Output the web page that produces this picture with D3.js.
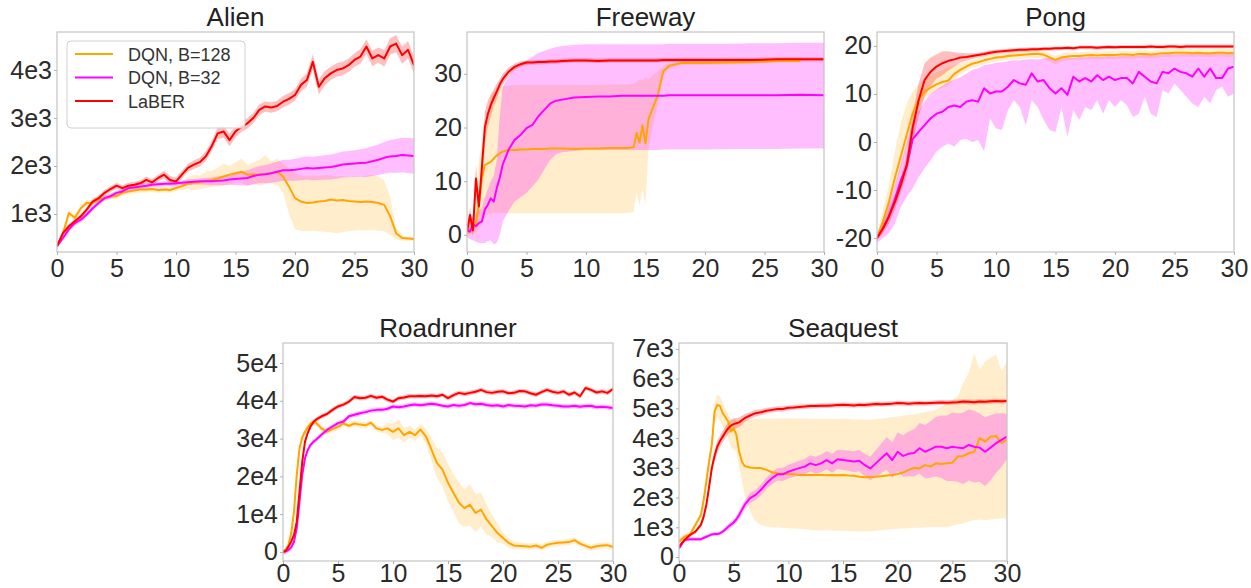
<!DOCTYPE html>
<html>
<head>
<meta charset="utf-8">
<script src="https://cdn.jsdelivr.net/npm/d3@7"></script>
<style>
  body { margin: 0; background: #fff; }
  text { font-family: "Liberation Sans", Arial, sans-serif; }
</style>
</head>
<body>
<div id="fig"></div>
<script>
// ---- shared ----
var seriesNames = ["DQN, B=128", "DQN, B=32", "LaBER"];
var xTicks = [0, 5, 10, 15, 20, 25, 30];

// ---- Alien (x every 0.5) ----
var alienSteps = d3.range(0, 30.01, 0.5);
var alienOrange = [330,600,1020,920,1120,1230,1230,1300,1330,1370,
  1370,1440,1470,1490,1510,1510,1520,1500,1510,1500,
  1540,1580,1630,1650,1660,1690,1710,1740,1780,1820,
  1850,1880,1820,1830,1820,1830,1850,1880,1780,1570,
  1330,1260,1230,1240,1260,1270,1300,1280,1290,1270,
  1260,1250,1260,1250,1230,1190,950,600,500,490,
  480];
var alienOrangeLo = [300,540,950,860,1050,1170,1170,1240,1270,1310,
  1310,1380,1410,1430,1450,1450,1460,1440,1450,1440,
  1480,1500,1520,1500,1520,1540,1560,1580,1600,1620,
  1650,1650,1600,1620,1600,1620,1640,1600,1450,1000,
  680,650,640,650,640,630,620,600,620,640,
  650,660,660,660,650,640,560,480,450,440,
  440];
var alienOrangeHi = [360,660,1090,980,1190,1290,1290,1360,1390,1430,
  1430,1500,1530,1550,1570,1570,1580,1560,1570,1560,
  1600,1680,1760,1820,1800,1880,1900,1960,2050,2000,
  2080,2150,2020,2080,2120,2230,2100,2150,2050,1950,
  1850,1800,1780,1800,1790,1810,1800,1780,1790,1770,
  1780,1760,1800,1820,1780,1700,1350,720,560,530,
  520];
var alienMagenta = [330,500,680,810,880,990,1120,1230,1330,1370,
  1440,1470,1540,1550,1570,1590,1610,1620,1630,1630,
  1640,1650,1660,1670,1680,1680,1680,1690,1700,1720,
  1730,1740,1750,1790,1820,1830,1850,1880,1910,1910,
  1920,1940,1960,1950,1960,1970,1980,2000,2030,2040,
  2050,2060,2070,2100,2130,2170,2200,2210,2230,2220,
  2210];
var alienMagentaSpread = [40,50,50,50,50,50,50,50,50,50,
  50,50,50,50,50,50,50,50,50,50,
  50,50,60,60,60,70,80,90,100,110,
  130,140,160,170,180,190,200,210,220,220,
  230,235,240,245,250,255,260,265,270,275,
  280,290,300,310,320,330,340,350,360,365,
  370];
var alienRed = [330,600,745,850,950,1090,1260,1330,1440,1520,
  1590,1540,1590,1610,1640,1710,1660,1750,1820,1710,
  1680,1820,1960,2030,2080,2200,2410,2680,2720,2540,
  2720,2820,2890,3000,3170,3240,3220,3250,3340,3400,
  3480,3690,3790,4170,3650,3830,3930,4000,4030,4100,
  4210,4280,4490,4240,4310,4240,4490,4550,4310,4420,
  4100];
var alienRedSpread = [40,50,50,50,50,50,60,60,60,60,
  60,60,60,60,60,70,70,70,80,80,
  80,80,80,90,90,100,110,120,130,130,
  120,110,110,110,110,110,110,110,120,120,
  120,130,140,160,160,150,140,140,140,140,
  140,150,150,160,160,170,170,180,180,180,
  180];
var alienTicks = [1000, 2000, 3000, 4000];
var alienTickLabels = ["1e3", "2e3", "3e3", "4e3"];

// ---- Freeway ----
var fwSteps = [0,0.25,0.5,0.75,1,1.25,1.5,1.75,2,2.25,
  2.5,2.75,3,3.5,4,4.5,5,5.5,6,6.5,
  7,7.5,8,9,10,11,12,13,13.5,14,
  14.25,14.5,14.75,15,15.25,15.5,16,16.5,17,18,
  20,22,24,26,28,30];
var fwOrange = [0.3,0.8,1,2,6,10.5,13,13.3,13.6,14.2,
  14.8,15.2,15.5,15.8,15.8,15.9,15.9,16,16,16,
  16.1,16.1,16.1,16,16.1,16.1,16.2,16.2,16.2,16.3,
  19,17.2,20.4,17,21.5,23,25.8,30.5,31.5,32,
  32,32.1,32.2,32.4,32.4,null];
var fwOrangeLo = [0,0,0,0.5,1,2,3,3.8,4,4,
  4,4,4,4,4,4,4,4,4,4,
  4,4,4,4,4,4,4,4,4.1,4.2,
  8,5.5,8.5,5.5,16,19,24,29.8,31,31.7,
  31.7,31.8,31.9,32.1,32.1,null];
var fwOrangeHi = [1,2,4,8,14,17,19.6,23,25.8,26.8,
  27.4,27.6,27.7,27.8,27.9,27.9,27.9,27.9,27.9,27.9,
  27.9,27.9,27.9,27.9,27.9,27.9,28,28,28,28.2,
  28.5,29,28.8,29.3,29,29.6,30.5,31.4,32,32.3,
  32.3,32.4,32.5,32.7,32.7,null];
var fwMagenta = [0.9,0.6,1.9,1.6,2.2,2.5,4.7,5.6,6.8,6.2,
  8.7,10.6,13.1,15.9,17.7,18.6,19.9,20.5,22.1,23.3,
  24.5,25,25.2,25.6,25.7,25.8,25.8,25.9,25.9,25.9,
  25.9,25.9,25.9,25.9,25.9,25.9,25.9,25.9,26,26,
  26,26,26,26,26.1,26];
var fwMagentaLo = [-0.5,-0.8,-1,-1.3,-1.5,-1.5,-1.5,-1.2,-1,-1.8,
  -1.5,0,2.5,4.5,6.2,7,7.8,9,10.3,12.2,
  14,15,15.4,15.6,15.8,15.8,15.8,15.8,15.8,15.8,
  15.8,15.8,15.8,15.8,15.8,15.8,15.8,15.9,15.9,15.9,
  15.9,16,16,16,16.1,16.1];
var fwMagentaHi = [2.5,2.5,3.5,4,4.5,5,7,8.5,10,11,
  14,22,27.5,29.5,31,32,32.5,33.2,33.9,34.3,
  34.7,35,35.2,35.4,35.5,35.5,35.5,35.5,35.5,35.5,
  35.5,35.5,35.5,35.5,35.5,35.5,35.5,35.5,35.6,35.6,
  35.6,35.6,35.7,35.7,35.8,35.8];
var fwRed = [0.6,3.7,0.8,10.5,5.3,12.5,20,22.5,24.2,25.5,
  26.7,28,29,30.4,31.3,31.8,32.1,32.1,32.2,32.2,
  32.3,32.3,32.4,32.5,32.5,32.4,32.5,32.5,32.5,32.5,
  32.5,32.5,32.5,32.5,32.5,32.5,32.5,32.6,32.6,32.6,
  32.6,32.6,32.6,32.7,32.7,32.7];
var fwRedSpread = [0.5,1.5,1,2.5,2,3,3,2.5,2,1.5,
  1.5,1,1,0.8,0.6,0.5,0.4,0.4,0.4,0.4,
  0.4,0.4,0.4,0.4,0.4,0.4,0.4,0.4,0.4,0.4,
  0.4,0.4,0.4,0.4,0.4,0.4,0.4,0.4,0.4,0.4,
  0.4,0.4,0.4,0.4,0.4,0.4];
var fwTicks = [0, 10, 20, 30];
var fwTickLabels = ["0", "10", "20", "30"];

// ---- Pong (x every 0.5) ----
var pongSteps = d3.range(0, 30.01, 0.5);
var pongOrange = [-20,-16.5,-12.5,-7.5,-3,1.5,6,8.8,10.5,11.3,
  12,12.5,12.8,14.2,15,15.7,16.3,16.6,17,17.3,
  17.6,17.7,17.9,18,18.1,18.2,18.3,18.3,18.2,17.6,
  17.1,17.6,17.8,17.9,17.9,18,18.1,18,18.1,18.1,
  18.1,18.2,18.2,18.1,18.3,18.3,18.2,18.3,18.5,18.5,
  18.6,18.6,18.6,18.5,18.6,18.5,18.5,18.6,18.6,18.5,
  18.6];
var pongOrangeLo = [-20.5,-17.5,-14,-9.5,-5.5,-1,3.5,7,9,10,
  10.8,11.3,11.7,13,14,14.8,15.5,15.8,16.2,16.5,
  16.8,16.9,17.1,17.2,17.3,17.4,17.5,17.5,17.3,16.8,
  16.2,16.8,17,17.1,17.1,17.2,17.3,17.2,17.3,17.3,
  17.3,17.4,17.4,17.3,17.5,17.5,17.4,17.5,17.7,17.7,
  17.8,17.8,17.8,17.7,17.8,17.7,17.7,17.8,17.8,17.7,
  17.8];
var pongOrangeHi = [-19.5,-14,-9,-2,4,8,10.5,12,13,13.8,
  14.5,15,15.5,16,16.5,16.8,17.2,17.4,17.8,18.1,
  18.4,18.5,18.7,18.8,18.9,19,19.1,19.1,19,18.5,
  18,18.4,18.6,18.7,18.7,18.8,18.9,18.8,18.9,18.9,
  18.9,19,19,18.9,19.1,19.1,19,19.1,19.3,19.3,
  19.4,19.4,19.4,19.3,19.4,19.3,19.3,19.4,19.4,19.3,
  19.4];
var pongMagenta = [-20,-18,-15.5,-12,-8,-5,0.6,2.1,3.5,4.9,
  5.9,6.3,7.3,7.6,7.3,8.4,8.7,8.4,11.2,10.1,
  10.5,10.5,11.5,12.9,12.2,11.9,14.3,12.6,12.9,11.2,
  10.1,11.2,9.8,13.6,12.6,13.3,12.6,13.9,12.9,13.6,
  12.9,13.3,13.3,12.2,14.6,13.6,12.6,12.2,14.6,14.3,
  15.3,14.6,14.3,13.6,15.3,13.6,15.3,13.3,13.3,15.3,
  15.7];
var pongMagentaLo = [-21,-20,-19,-17,-13.5,-11.4,-9.7,-7.3,-5.5,-3.8,
  -2,-1,-0.3,-1,0.4,0.7,0,0.4,-2,4.9,
  2.8,2.5,6.6,8.7,7.3,3.5,8.7,7.3,4.6,2.5,
  2.1,7.3,1.1,6.6,4.6,7.3,6.6,8.7,5.9,8.7,
  7.3,8.7,7.7,5.2,5.9,9.4,5.9,5.2,10.8,10.1,
  12.2,10.8,9.4,8,7.3,9.4,8,10.8,11.5,9.4,
  10.1];
var pongMagentaHi = [-19,-16.5,-13,-9,-4.5,0,4,6.5,8.5,10,
  11,11.7,12.5,13,13.5,14.2,15,15.3,16,16.2,
  16.5,16.6,16.8,17,17,17.2,17.3,17.2,17.4,17.5,
  17.2,17.4,17.6,17.5,17.7,17.6,17.8,17.7,17.8,17.9,
  17.8,17.9,18,17.9,18,18.1,18.2,18.1,18.2,18.3,
  18.2,18.3,18.3,18.4,18.4,18.3,18.4,18.5,18.4,18.5,
  18.6];
var pongRed = [-20,-18,-15.5,-12.5,-9,-4.8,3,8.7,12.9,14.6,
  15.7,16.4,16.9,17.2,17.6,17.7,17.9,18.1,18.3,18.6,
  18.8,18.9,19,19.1,19.2,19.2,19.3,19.3,19.4,19.4,
  19.5,19.5,19.6,19.5,19.7,19.7,19.7,19.6,19.7,19.8,
  19.7,19.8,19.8,19.8,19.8,19.8,19.9,19.8,19.8,19.9,
  19.9,19.8,19.9,19.9,19.9,19.9,19.9,19.9,19.9,19.9,
  19.9];
var pongRedSpread = [0.5,1,1.5,1.5,1.5,2,3,3.5,3.5,3,
  2.5,2.5,2,1.5,1,0.8,0.6,0.5,0.5,0.5,
  0.4,0.4,0.4,0.4,0.4,0.4,0.4,0.4,0.4,0.4,
  0.4,0.4,0.4,0.4,0.4,0.4,0.4,0.4,0.4,0.4,
  0.4,0.4,0.4,0.4,0.4,0.4,0.4,0.4,0.4,0.4,
  0.4,0.4,0.4,0.4,0.4,0.4,0.4,0.4,0.4,0.4,
  0.4];
var pongTicks = [-20, -10, 0, 10, 20];
var pongTickLabels = ["-20", "-10", "0", "10", "20"];

// ---- Roadrunner (finer early) ----
var rrSteps = [0,0.25,0.5,0.75,1,1.25,1.5,1.75,2,2.25,2.5,2.75].concat(d3.range(3, 30.01, 0.5));
var rrOrange = [0,600,1900,5000,10700,20400,27400,30300,31800,33000,34000,34300,
  34200,32700,31800,32500,33100,34000,33400,34000,33700,33500,
  34200,32700,32300,32700,31800,32700,30900,31800,30900,32400,
  30600,27100,23500,21800,18300,15600,13000,11600,12500,10300,
  11200,8600,6800,5000,3700,2400,1700,1600,1500,1400,
  1700,1100,1900,2200,2400,2500,2600,3100,2200,1600,
  1100,1500,1700,1800,1300];
var rrOrangeSpread = [300,400,600,900,1200,1500,1200,1000,800,800,800,800,
  800,800,800,800,800,800,800,800,800,800,800,800,800,
  1500,2200,2500,2000,1500,1500,1500,2000,3000,4000,4500,5000,
  5000,5500,5000,5500,5000,4500,4000,3000,2500,1500,1200,1000,
  800,800,800,800,800,800,800,800,800,800,800,800,800,800,800,800,800,800];
var rrMagenta = [0,150,500,1200,2700,6300,13300,20400,24800,27000,28300,29100,
  29700,31000,32300,33200,34100,34500,35900,36300,36700,37000,
  37400,37600,37600,37900,38500,38300,38500,38800,39000,38800,
  39000,39200,39000,38700,38500,38900,38700,38900,39400,39100,
  39200,38900,38700,38800,38500,38900,38700,38600,38500,38800,
  38700,39000,39000,38800,38700,38500,38500,38700,38400,38600,
  38700,38300,38400,38300,38100];
var rrRed = [0,300,1400,2800,4500,8000,16000,23900,29200,31500,33200,34300,
  35000,35900,36500,37600,38500,39000,39800,41000,40700,40800,
  41300,40800,41100,40300,39800,40700,40900,41200,41200,41300,
  41200,41400,41200,41600,40700,41500,42100,41800,42100,42400,
  42900,42300,42100,42400,42500,42000,42100,42600,42500,42000,
  41600,42300,42900,42400,42100,42500,41600,42200,41200,43400,
  42900,42200,42500,42100,43100];
var rrTicks = [0, 10000, 20000, 30000, 40000, 50000];
var rrTickLabels = ["0", "1e4", "2e4", "3e4", "4e4", "5e4"];

// ---- Seaquest (finer around the early peak) ----
var sqSteps = [0,0.5,1,1.5,2].concat(d3.range(2.25, 5.9, 0.25), d3.range(6, 30.01, 0.5));
var sqOrange = [520,680,760,1080,1410,
  1900,2540,3200,3770,4890,5120,5080,4840,4700,4560,4220,4330,4110,3550,3210,
  3060,3010,2990,2990,2930,2850,2820,2800,2790,2780,
  2760,2760,2760,2760,2760,2750,2760,2750,2760,2740,
  2730,2700,2680,2690,2700,2720,2740,2760,2790,2840,
  2930,3000,2980,3090,3040,3150,3130,3150,3170,3380,
  3400,3490,3540,4000,3880,4050,4070,3830,3960];
var sqOrangeLo = [420,580,660,980,1300,
  1750,2350,3000,3550,4500,4700,4600,4400,4200,4000,3700,3600,3550,3000,2600,
  2090,1530,1190,1080,1020,1000,990,980,970,960,
  950,930,920,900,900,890,890,880,880,870,
  870,860,860,870,880,900,920,930,950,960,
  970,980,980,990,1000,1010,1000,1000,1050,1100,
  1130,1200,1240,1260,1240,1260,1290,1300,1290];
var sqOrangeHi = [620,780,860,1180,1520,
  2050,2750,3450,4050,5200,5480,5400,5200,5000,4800,4600,4650,4600,4560,4580,
  4600,4620,4640,4650,4660,4660,4670,4660,4670,4670,
  4660,4670,4650,4660,4640,4650,4640,4650,4640,4640,
  4630,4630,4620,4620,4640,4660,4680,4700,4730,4760,
  4780,4800,4840,4880,4900,4950,5060,5150,5290,5400,
  5850,6190,6860,6300,6580,6700,6810,6250,6580];
var sqMagenta = [290,570,600,600,600,
  640,680,720,760,770,770,800,850,930,1020,1090,1160,1270,1410,1580,
  1750,1980,2090,2260,2480,2650,2780,2780,2870,2930,
  2990,3040,3150,3090,3150,3260,3150,3290,3260,3240,
  3210,3240,3090,2980,3150,3320,3490,3260,3540,3400,
  3470,3500,3660,3540,3620,3710,3710,3660,3710,3680,
  3660,3770,3710,3680,3540,3680,3830,3940,4050];
var sqMagentaSpread = [60,60,60,60,60,
  60,60,60,60,60,60,60,60,80,100,100,100,120,130,150,
  150,170,170,180,190,200,210,220,230,240,
  250,260,270,280,300,310,320,320,330,340,
  350,360,380,400,450,500,550,600,650,700,
  750,800,850,900,950,1000,1050,1100,1150,1150,
  1200,1200,1200,1150,1150,1100,1000,900,750];
var sqRed = [350,570,740,850,1080,
  1350,1750,2350,2990,3400,3710,3900,4050,4200,4330,4420,4470,4500,4530,4600,
  4670,4760,4840,4870,4920,4950,4980,4980,5020,5030,
  5050,5060,5080,5080,5090,5090,5100,5110,5120,5110,
  5100,5120,5110,5130,5150,5140,5150,5160,5180,5170,
  5160,5170,5180,5170,5180,5190,5200,5190,5200,5210,
  5230,5220,5210,5230,5220,5240,5250,5240,5250];
var sqRedSpread = [50,60,60,60,80,
  100,120,150,180,200,200,200,200,200,200,200,200,180,160,150,
  130,120,110,100,100,90,90,90,80,80,
  80,80,80,80,80,80,80,80,80,80,
  80,80,80,80,80,80,80,80,80,80,
  80,80,80,80,80,80,80,80,80,80,
  80,80,80,80,80,80,80,80,80];
var sqTicks = [0, 1000, 2000, 3000, 4000, 5000, 6000, 7000];
var sqTickLabels = ["0", "1e3", "2e3", "3e3", "4e3", "5e3", "6e3", "7e3"];

// ---- styles ----
var cOrange = "#FFA500", cMagenta = "#FF00FF", cRed = "#FF0000";
var bandAlpha = {};
bandAlpha[cOrange] = 0.2;
bandAlpha[cMagenta] = 0.25;
bandAlpha[cRed] = 0.25;

var panels = [
  {title: "Alien", left: 57, right: 414, top: 32, bottom: 252, steps: alienSteps,
   yDomain: [208, 4792], yTicks: alienTicks, yLabels: alienTickLabels, legend: true, xPad: 4,
   series: [
     {color: cOrange, mean: alienOrange, lo: alienOrangeLo, hi: alienOrangeHi},
     {color: cMagenta, mean: alienMagenta, spread: alienMagentaSpread},
     {color: cRed, mean: alienRed, spread: alienRedSpread}]},
  {title: "Freeway", left: 467, right: 824, top: 32, bottom: 252, steps: fwSteps,
   yDomain: [-3.2, 37.8], yTicks: fwTicks, yLabels: fwTickLabels, xPad: 4,
   series: [
     {color: cOrange, mean: fwOrange, lo: fwOrangeLo, hi: fwOrangeHi},
     {color: cMagenta, mean: fwMagenta, lo: fwMagentaLo, hi: fwMagentaHi},
     {color: cRed, mean: fwRed, spread: fwRedSpread}]},
  {title: "Pong", left: 877, right: 1234, top: 32, bottom: 252, steps: pongSteps,
   yDomain: [-22.9, 22.9], yTicks: pongTicks, yLabels: pongTickLabels, xPad: 4,
   series: [
     {color: cOrange, mean: pongOrange, lo: pongOrangeLo, hi: pongOrangeHi},
     {color: cMagenta, mean: pongMagenta, lo: pongMagentaLo, hi: pongMagentaHi},
     {color: cRed, mean: pongRed, spread: pongRedSpread}]},
  {title: "Roadrunner", left: 283, right: 613, top: 343, bottom: 561, steps: rrSteps,
   yDomain: [-2400, 55300], yTicks: rrTicks, yLabels: rrTickLabels, xPad: 0,
   series: [
     {color: cOrange, mean: rrOrange, spread: rrOrangeSpread},
     {color: cMagenta, mean: rrMagenta, spread: 600},
     {color: cRed, mean: rrRed, spread: 600}]},
  {title: "Seaquest", left: 679, right: 1007, top: 343, bottom: 561, steps: sqSteps,
   yDomain: [-135, 7200], yTicks: sqTicks, yLabels: sqTickLabels, xPad: 0,
   series: [
     {color: cOrange, mean: sqOrange, lo: sqOrangeLo, hi: sqOrangeHi},
     {color: cMagenta, mean: sqMagenta, spread: sqMagentaSpread},
     {color: cRed, mean: sqRed, spread: sqRedSpread}]}
];

var svg = d3.select("#fig")
  .append("svg")
    .attr("width", 1251)
    .attr("height", 588);

svg.append("rect").attr("width", 1251).attr("height", 588).attr("fill", "#fff");

function rowsOf(p, s) {
  return p.steps.map(function(t, i) {
    var m = s.mean[i];
    var sp = Array.isArray(s.spread) ? s.spread[i] : s.spread;
    var lo = s.lo ? s.lo[i] : (m == null ? null : m - sp);
    var hi = s.hi ? s.hi[i] : (m == null ? null : m + sp);
    return {t: t, m: m, lo: lo, hi: hi};
  });
}

panels.forEach(function(p, k) {
  var x = d3.scaleLinear().domain([0, 30]).range([p.left, p.right]);
  var y = d3.scaleLinear().domain(p.yDomain).range([p.bottom, p.top]);
  var g = svg.append("g");

  g.append("clipPath").attr("id", "clip" + k)
    .append("rect")
      .attr("x", p.left).attr("y", p.top)
      .attr("width", p.right - p.left).attr("height", p.bottom - p.top);

  var plot = g.append("g").attr("clip-path", "url(#clip" + k + ")");

  var area = d3.area()
    .defined(function(d) { return d.lo != null && d.hi != null && !isNaN(d.lo) && !isNaN(d.hi); })
    .x(function(d) { return x(d.t); })
    .y0(function(d) { return y(d.lo); })
    .y1(function(d) { return y(d.hi); });
  var line = d3.line()
    .defined(function(d) { return d.m != null && !isNaN(d.m); })
    .x(function(d) { return x(d.t); })
    .y(function(d) { return y(d.m); });

  // bands first, then the mean lines
  p.series.forEach(function(s) {
    plot.append("path")
      .datum(rowsOf(p, s))
      .attr("d", area)
      .attr("fill", s.color)
      .attr("fill-opacity", bandAlpha[s.color])
      .attr("stroke", "none");
  });
  p.series.forEach(function(s) {
    plot.append("path")
      .datum(rowsOf(p, s))
      .attr("d", line)
      .attr("fill", "none")
      .attr("stroke", s.color)
      .attr("stroke-width", 2)
      .attr("stroke-linejoin", "round");
  });

  // frame
  g.append("rect")
    .attr("x", p.left).attr("y", p.top)
    .attr("width", p.right - p.left).attr("height", p.bottom - p.top)
    .attr("fill", "none")
    .attr("stroke", "#c4c4c4")
    .attr("stroke-width", 1.2);

  // axes
  var xa = g.append("g")
    .attr("transform", "translate(0," + p.bottom + ")")
    .call(d3.axisBottom(x).tickValues(xTicks).tickSize(3).tickPadding(p.xPad));
  var ya = g.append("g")
    .attr("transform", "translate(" + p.left + ",0)")
    .call(d3.axisLeft(y).tickValues(p.yTicks).tickSize(3).tickPadding(2)
      .tickFormat(function(d, i) { return p.yLabels[i]; }));
  [xa, ya].forEach(function(a) {
    a.select(".domain").remove();
    a.selectAll(".tick line").attr("stroke", "#b0b0b0");
    a.selectAll(".tick text")
      .attr("fill", "#2b2b2b")
      .style("font-size", "25px")
      .style("font-family", "'Liberation Sans', Arial, sans-serif");
  });

  // title
  g.append("text")
    .attr("x", (p.left + p.right) / 2)
    .attr("y", p.top - 6)
    .attr("text-anchor", "middle")
    .attr("fill", "#222")
    .style("font-size", "26px")
    .text(p.title);

  if (p.legend) {
    var lg = g.append("g");
    lg.append("rect")
      .attr("x", 67).attr("y", 41).attr("width", 178).attr("height", 87)
      .attr("rx", 4)
      .attr("fill", "#fff").attr("fill-opacity", 0.85)
      .attr("stroke", "#d0d0d0");
    p.series.forEach(function(s, i) {
      var ly = 54 + i * 23.5;
      lg.append("line")
        .attr("x1", 75).attr("x2", 113).attr("y1", ly).attr("y2", ly)
        .attr("stroke", s.color).attr("stroke-width", 2);
      lg.append("text")
        .attr("x", 128).attr("y", ly + 6.5)
        .attr("fill", "#333")
        .style("font-size", "18px")
        .text(seriesNames[i]);
    });
  }
});
</script>
</body>
</html>
